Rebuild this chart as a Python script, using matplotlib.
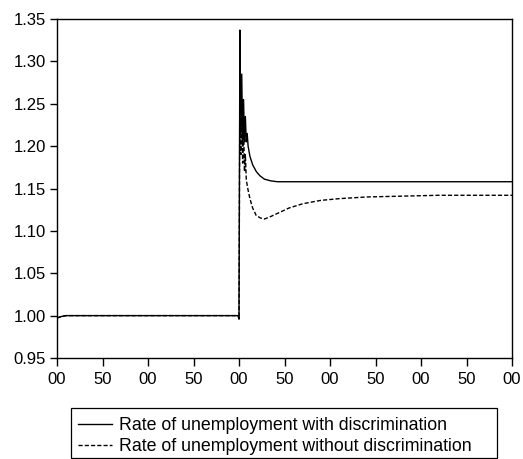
import matplotlib
matplotlib.use("Agg")
import matplotlib.pyplot as plt
from matplotlib.patches import Rectangle

plt.rcParams['font.family'] = ['Liberation Sans', 'DejaVu Sans']

# Simulated rate of unemployment (index, steady state = 1.00), shock at period 200
periods_with = [0, 2, 5, 10, 199, 200, 201, 202, 203, 204, 205, 206, 207, 208, 209,
                210, 212, 215, 219, 223, 228, 235, 242, 500]
rate_with = [0.997, 0.998, 0.999, 1.000, 1.000, 0.996, 1.337, 1.215, 1.285, 1.205,
             1.255, 1.205, 1.235, 1.205, 1.215, 1.200, 1.188, 1.178, 1.170, 1.165,
             1.161, 1.159, 1.158, 1.158]

periods_without = [0, 2, 5, 10, 199, 200, 201, 202, 203, 204, 205, 206, 207, 208,
                   210, 212, 215, 219, 224, 228, 235, 245, 255, 270, 290, 310, 340,
                   380, 420, 500]
rate_without = [0.997, 0.998, 0.999, 1.000, 1.000, 0.996, 1.295, 1.190, 1.255, 1.180,
                1.225, 1.170, 1.190, 1.160, 1.148, 1.138, 1.127, 1.118, 1.115, 1.114,
                1.117, 1.122, 1.127, 1.132, 1.136, 1.138, 1.140, 1.141, 1.142, 1.142]

x_ticks = [0, 50, 100, 150, 200, 250, 300, 350, 400, 450, 500]
x_tick_labels = ["00", "50", "00", "50", "00", "50", "00", "50", "00", "50", "00"]
y_ticks = [0.95, 1.00, 1.05, 1.10, 1.15, 1.20, 1.25, 1.30, 1.35]

label_with = "Rate of unemployment with discrimination"
label_without = "Rate of unemployment without discrimination"

W, H = 523, 459
fig = plt.figure(figsize=(W / 100, H / 100), dpi=100)
ax = fig.add_axes([57 / W, 1 - 358 / H, 455 / W, 339 / H])

ax.plot(periods_with, rate_with, color='black', lw=1.0, label=label_with)
ax.plot(periods_without, rate_without, color='black', lw=1.0,
        linestyle=(0, (3, 1.5)), label=label_without)

ax.set_xlim(0, 500)
ax.set_ylim(0.95, 1.35)
ax.set_xticks(x_ticks)
ax.set_xticklabels(x_tick_labels)
ax.set_yticks(y_ticks)
ax.set_yticklabels([f"{v:.2f}" for v in y_ticks])
ax.tick_params(direction='out', width=1, labelsize=12, colors='black')
ax.tick_params(axis='x', length=6, pad=4)
ax.tick_params(axis='y', length=5, pad=3)
for s in ax.spines.values():
    s.set_linewidth(1.0)
    s.set_color('black')

# legend entries without their own frame, boxed by a plain rectangle below
leg = fig.legend(loc='upper left', bbox_to_anchor=(78 / W, 1 - 417 / H), ncol=1,
                 fontsize=12.8, handlelength=1.9, frameon=False,
                 borderpad=0.0, labelspacing=0.25, handletextpad=0.4,
                 borderaxespad=0.0)
fig.add_artist(Rectangle((71 / W, 1 - 458 / H), 426 / W, 50 / H,
                         transform=fig.transFigure, fill=False,
                         edgecolor='black', linewidth=0.9))

fig.savefig("out.png", dpi=100)
